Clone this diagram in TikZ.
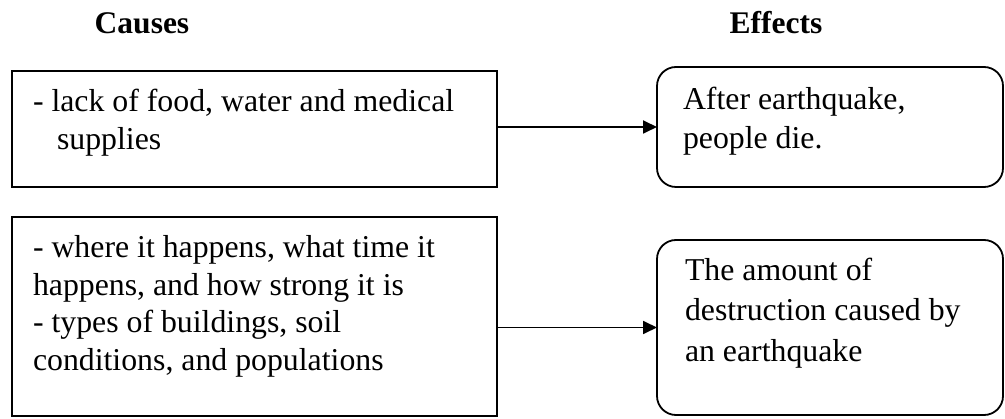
\documentclass[tikz,border=0pt]{standalone}
\usepackage{fontspec}
\setmainfont{Liberation Serif}
\usetikzlibrary{arrows.meta}
\begin{document}
\begin{tikzpicture}[x=1pt,y=-1pt,
  every node/.style={inner sep=0pt, outer sep=0pt},
  txt/.style={anchor=base west, font=\fontsize{31.8}{38}\selectfont},
  head/.style={anchor=base, font=\fontsize{31.5}{38}\selectfont\bfseries},
  causebox/.style={draw, line width=1.8pt, rectangle},
  effectbox/.style={draw, line width=1.8pt, rectangle, rounded corners=19pt},
  link/.style={line width=1.8pt, -{Triangle[length=14pt,width=13pt]}}]
\useasboundingbox (0,0) rectangle (1005,419);

% column headings
\node[head] (hcause) at (142,34) {Causes};
\node[head] (heffect) at (776,34) {Effects};

% cause boxes
\node[causebox, minimum width=485pt, minimum height=116pt] (c1) at (254.5,129) {};
\node[causebox, minimum width=485pt, minimum height=199pt] (c2) at (254.5,316.3) {};

% effect boxes
\node[effectbox, minimum width=346pt, minimum height=120pt] (e1) at (830,127) {};
\node[effectbox, minimum width=346pt, minimum height=175pt] (e2) at (830,327.5) {};

% cause texts
\node[txt] (c1a) at (33,112) {- lack of food, water and medical};
\node[txt] (c1b) at (57,150) {supplies};
\node[txt] (c2a) at (33,258) {- where it happens, what time it};
\node[txt] (c2b) at (33,296) {happens, and how strong it is};
\node[txt] (c2c) at (33,333) {- types of buildings, soil};
\node[txt] (c2d) at (33,371) {conditions, and populations};

% effect texts
\node[txt] (e1a) at (683,110) {After earthquake,};
\node[txt] (e1b) at (683,149) {people die.};
\node[txt] (e2a) at (685,281) {The amount of};
\node[txt] (e2b) at (685,321) {destruction caused by};
\node[txt] (e2c) at (685,362) {an earthquake};

% connectors
\draw[link] (c1.east |- e1.west) -- (e1.west);
\draw[link] (c2.east |- e2.west) -- (e2.west);
\end{tikzpicture}
\end{document}
